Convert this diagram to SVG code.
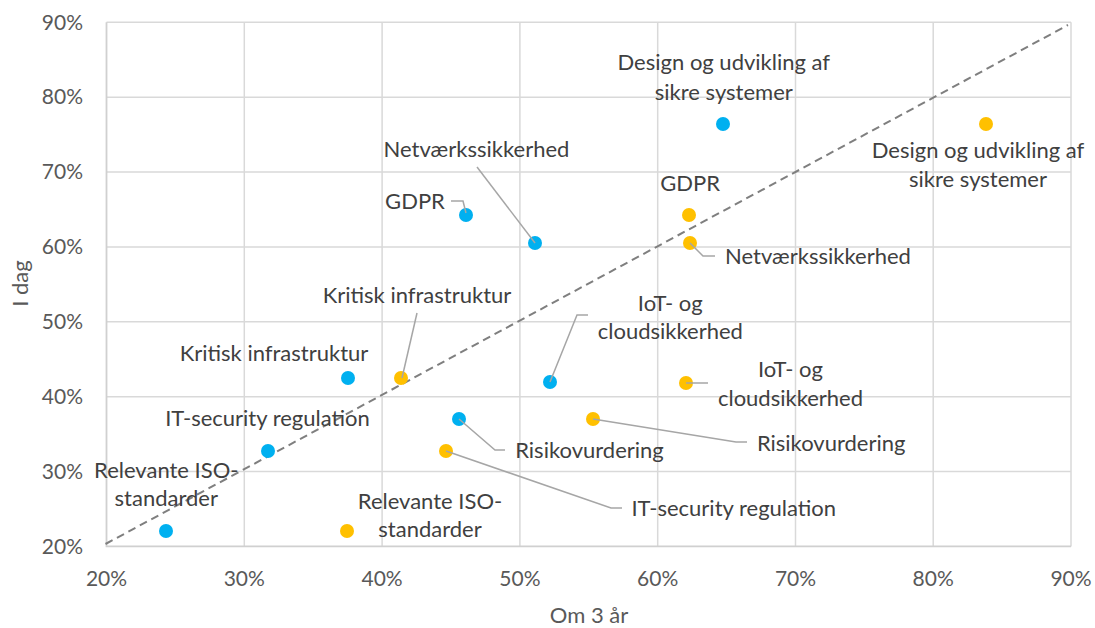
<svg xmlns="http://www.w3.org/2000/svg" width="1095" height="628" viewBox="0 0 1095 628">
<style>
.grid{stroke:#d9d9d9;stroke-width:1.5;fill:none}
.axis{stroke:#d0d0d0;stroke-width:1.8;fill:none}
.tick{font-family:Lato,"Liberation Sans",sans-serif;font-size:21px;fill:#595959}
.ytick{text-anchor:end}
.xtick{text-anchor:middle}
.title{font-family:Lato,"Liberation Sans",sans-serif;font-size:22px;fill:#595959;text-anchor:middle}
.lbl{font-family:Lato,"Liberation Sans",sans-serif;font-size:22px;fill:#404040;text-anchor:middle}
.blue{fill:#00b0f0}
.yellow{fill:#ffc000}
.leader{stroke:#a6a6a6;stroke-width:1.5;fill:none}
.trend{stroke:#7f7f7f;stroke-width:2;stroke-dasharray:8 5;fill:none}
</style>
<rect width="1095" height="628" fill="#ffffff"/>
<g id="gridlines">
<path class="grid" d="M106.5,22.3H1071M106.5,97.2H1071M106.5,172H1071M106.5,246.9H1071M106.5,321.8H1071M106.5,396.7H1071M106.5,471.5H1071"/>
<path class="grid" d="M244.3,22.3V546.4M382.1,22.3V546.4M519.9,22.3V546.4M657.7,22.3V546.4M795.5,22.3V546.4M933.2,22.3V546.4M1071,22.3V546.4"/>
<path class="axis" d="M106.5,22.3V546.4H1071"/>
</g>
<g id="y-axis">
<text class="tick ytick" x="83" y="29.5">90%</text>
<text class="tick ytick" x="83" y="104.4">80%</text>
<text class="tick ytick" x="83" y="179.2">70%</text>
<text class="tick ytick" x="83" y="254.1">60%</text>
<text class="tick ytick" x="83" y="329">50%</text>
<text class="tick ytick" x="83" y="403.9">40%</text>
<text class="tick ytick" x="83" y="478.7">30%</text>
<text class="tick ytick" x="83" y="553.6">20%</text>
<text class="title" transform="translate(27.5,283.5) rotate(-90)">I dag</text>
</g>
<g id="x-axis">
<text class="tick xtick" x="106.5" y="586">20%</text>
<text class="tick xtick" x="244.3" y="586">30%</text>
<text class="tick xtick" x="382.1" y="586">40%</text>
<text class="tick xtick" x="519.9" y="586">50%</text>
<text class="tick xtick" x="657.7" y="586">60%</text>
<text class="tick xtick" x="795.5" y="586">70%</text>
<text class="tick xtick" x="933.2" y="586">80%</text>
<text class="tick xtick" x="1071" y="586">90%</text>
<text class="title" x="589" y="622.5">Om 3 år</text>
</g>
<path id="trendline" class="trend" d="M105.5,544L1068,25"/>
<g id="blue-design"><circle class="blue" cx="723" cy="124" r="7"/><text class="lbl" x="723.8" y="70">Design og udvikling af</text><text class="lbl" x="723.8" y="100">sikre systemer</text></g>
<g id="blue-gdpr"><circle class="blue" cx="466" cy="215" r="7"/><text class="lbl" x="415" y="208.7">GDPR</text></g>
<g id="blue-netvaerk"><circle class="blue" cx="535" cy="243" r="7"/><text class="lbl" x="476.5" y="157">Netværkssikkerhed</text></g>
<g id="blue-kritisk"><circle class="blue" cx="348" cy="378" r="7"/><text class="lbl" x="274" y="361">Kritisk infrastruktur</text></g>
<g id="blue-iot"><circle class="blue" cx="550" cy="382" r="7"/><text class="lbl" x="670.3" y="311">IoT- og</text><text class="lbl" x="670.3" y="338.5">cloudsikkerhed</text></g>
<g id="blue-risiko"><circle class="blue" cx="459" cy="419" r="7"/><text class="lbl" x="589.5" y="458.3">Risikovurdering</text></g>
<g id="blue-itsec"><circle class="blue" cx="268" cy="451" r="7"/><text class="lbl" x="267.5" y="426">IT-security regulation</text></g>
<g id="blue-iso"><circle class="blue" cx="166" cy="531" r="7"/><text class="lbl" x="166.3" y="478">Relevante ISO-</text><text class="lbl" x="166.3" y="506">standarder</text></g>
<g id="yellow-design"><circle class="yellow" cx="986" cy="124" r="7"/><text class="lbl" x="978" y="157.7">Design og udvikling af</text><text class="lbl" x="978" y="186.7">sikre systemer</text></g>
<g id="yellow-gdpr"><circle class="yellow" cx="689" cy="215" r="7"/><text class="lbl" x="690.2" y="191">GDPR</text></g>
<g id="yellow-netvaerk"><circle class="yellow" cx="690" cy="243" r="7"/><text class="lbl" x="818" y="264.3">Netværkssikkerhed</text></g>
<g id="yellow-kritisk"><circle class="yellow" cx="401" cy="378" r="7"/><text class="lbl" x="417" y="302.7">Kritisk infrastruktur</text></g>
<g id="yellow-iot"><circle class="yellow" cx="686" cy="383" r="7"/><text class="lbl" x="790.5" y="376.7">IoT- og</text><text class="lbl" x="790.5" y="405.7">cloudsikkerhed</text></g>
<g id="yellow-risiko"><circle class="yellow" cx="593" cy="419" r="7"/><text class="lbl" x="831.2" y="450.7">Risikovurdering</text></g>
<g id="yellow-itsec"><circle class="yellow" cx="446" cy="451" r="7"/><text class="lbl" x="733.8" y="516">IT-security regulation</text></g>
<g id="yellow-iso"><circle class="yellow" cx="347" cy="531" r="7"/><text class="lbl" x="430" y="509.3">Relevante ISO-</text><text class="lbl" x="430" y="536.7">standarder</text></g>
<g id="connectors">
<path class="leader" d="M451,201H463L466,213"/>
<path class="leader" d="M477,167L535,243"/>
<path class="leader" d="M690,243L703,256H715"/>
<path class="leader" d="M417,313L402,378"/>
<path class="leader" d="M588,315H577L550,382"/>
<path class="leader" d="M686,383H708"/>
<path class="leader" d="M459,419L495,450H505"/>
<path class="leader" d="M593,419L736,442H747"/>
<path class="leader" d="M446,451L611,508H622"/>
</g>
</svg>
